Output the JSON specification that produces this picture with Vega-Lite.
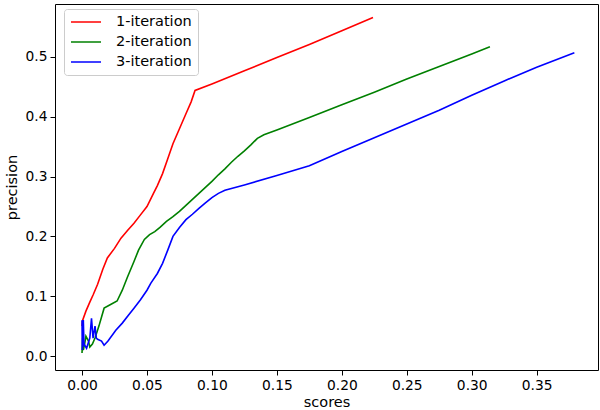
{
  "$schema": "https://vega.github.io/schema/vega-lite/v6.json",
  "width": 543,
  "height": 366,
  "autosize": {"type": "none"},
  "padding": {"left": 55, "top": 4, "right": 2, "bottom": 40},
  "background": "white",
  "config": {
    "view": {"stroke": "#000000", "strokeWidth": 1},
    "font": "DejaVu Sans",
    "axis": {
      "grid": false,
      "domain": false,
      "tickColor": "#000000",
      "tickSize": 5,
      "labelFont": "DejaVu Sans",
      "labelFontSize": 13.8,
      "labelColor": "#000000",
      "titleFont": "DejaVu Sans",
      "titleFontSize": 14.5,
      "titleFontWeight": "normal",
      "titleColor": "#000000",
      "labelPadding": 3
    }
  },
  "data": {
    "values": [
      {"series": "1-iteration", "score": 0.0, "precision": 0.05},
      {"series": "1-iteration", "score": 0.0005, "precision": 0.06},
      {"series": "1-iteration", "score": 0.003, "precision": 0.075},
      {"series": "1-iteration", "score": 0.006, "precision": 0.09},
      {"series": "1-iteration", "score": 0.0085, "precision": 0.102},
      {"series": "1-iteration", "score": 0.012, "precision": 0.12},
      {"series": "1-iteration", "score": 0.016, "precision": 0.145},
      {"series": "1-iteration", "score": 0.0195, "precision": 0.164},
      {"series": "1-iteration", "score": 0.025, "precision": 0.18},
      {"series": "1-iteration", "score": 0.03, "precision": 0.197},
      {"series": "1-iteration", "score": 0.035, "precision": 0.21},
      {"series": "1-iteration", "score": 0.04, "precision": 0.222},
      {"series": "1-iteration", "score": 0.045, "precision": 0.236},
      {"series": "1-iteration", "score": 0.05, "precision": 0.25},
      {"series": "1-iteration", "score": 0.055, "precision": 0.272},
      {"series": "1-iteration", "score": 0.058, "precision": 0.285},
      {"series": "1-iteration", "score": 0.062, "precision": 0.305},
      {"series": "1-iteration", "score": 0.066, "precision": 0.33},
      {"series": "1-iteration", "score": 0.07, "precision": 0.355},
      {"series": "1-iteration", "score": 0.075, "precision": 0.38},
      {"series": "1-iteration", "score": 0.08, "precision": 0.405},
      {"series": "1-iteration", "score": 0.084, "precision": 0.425},
      {"series": "1-iteration", "score": 0.087, "precision": 0.444},
      {"series": "1-iteration", "score": 0.1, "precision": 0.455},
      {"series": "1-iteration", "score": 0.125, "precision": 0.477},
      {"series": "1-iteration", "score": 0.15, "precision": 0.499},
      {"series": "1-iteration", "score": 0.175, "precision": 0.521},
      {"series": "1-iteration", "score": 0.2, "precision": 0.544},
      {"series": "1-iteration", "score": 0.224, "precision": 0.566},

      {"series": "2-iteration", "score": 0.0, "precision": 0.005},
      {"series": "2-iteration", "score": 0.0005, "precision": 0.03},
      {"series": "2-iteration", "score": 0.001, "precision": 0.01},
      {"series": "2-iteration", "score": 0.002, "precision": 0.02},
      {"series": "2-iteration", "score": 0.003, "precision": 0.033},
      {"series": "2-iteration", "score": 0.005, "precision": 0.025},
      {"series": "2-iteration", "score": 0.006, "precision": 0.015},
      {"series": "2-iteration", "score": 0.008, "precision": 0.02},
      {"series": "2-iteration", "score": 0.01, "precision": 0.03},
      {"series": "2-iteration", "score": 0.013, "precision": 0.05},
      {"series": "2-iteration", "score": 0.017, "precision": 0.08},
      {"series": "2-iteration", "score": 0.022, "precision": 0.086},
      {"series": "2-iteration", "score": 0.027, "precision": 0.092},
      {"series": "2-iteration", "score": 0.031, "precision": 0.11},
      {"series": "2-iteration", "score": 0.035, "precision": 0.132},
      {"series": "2-iteration", "score": 0.04, "precision": 0.158},
      {"series": "2-iteration", "score": 0.0435, "precision": 0.177},
      {"series": "2-iteration", "score": 0.048, "precision": 0.195},
      {"series": "2-iteration", "score": 0.052, "precision": 0.203},
      {"series": "2-iteration", "score": 0.056, "precision": 0.208},
      {"series": "2-iteration", "score": 0.06, "precision": 0.215},
      {"series": "2-iteration", "score": 0.065, "precision": 0.225},
      {"series": "2-iteration", "score": 0.07, "precision": 0.233},
      {"series": "2-iteration", "score": 0.075, "precision": 0.242},
      {"series": "2-iteration", "score": 0.08, "precision": 0.252},
      {"series": "2-iteration", "score": 0.085, "precision": 0.262},
      {"series": "2-iteration", "score": 0.09, "precision": 0.272},
      {"series": "2-iteration", "score": 0.095, "precision": 0.282},
      {"series": "2-iteration", "score": 0.1, "precision": 0.292},
      {"series": "2-iteration", "score": 0.105, "precision": 0.303},
      {"series": "2-iteration", "score": 0.11, "precision": 0.313},
      {"series": "2-iteration", "score": 0.115, "precision": 0.324},
      {"series": "2-iteration", "score": 0.12, "precision": 0.334},
      {"series": "2-iteration", "score": 0.125, "precision": 0.343},
      {"series": "2-iteration", "score": 0.13, "precision": 0.353},
      {"series": "2-iteration", "score": 0.135, "precision": 0.364},
      {"series": "2-iteration", "score": 0.14, "precision": 0.37},
      {"series": "2-iteration", "score": 0.15, "precision": 0.378},
      {"series": "2-iteration", "score": 0.175, "precision": 0.399},
      {"series": "2-iteration", "score": 0.2, "precision": 0.42},
      {"series": "2-iteration", "score": 0.225, "precision": 0.441},
      {"series": "2-iteration", "score": 0.25, "precision": 0.463},
      {"series": "2-iteration", "score": 0.275, "precision": 0.484},
      {"series": "2-iteration", "score": 0.3, "precision": 0.505},
      {"series": "2-iteration", "score": 0.314, "precision": 0.517},

      {"series": "3-iteration", "score": 0.0, "precision": 0.06},
      {"series": "3-iteration", "score": 0.0002, "precision": 0.01},
      {"series": "3-iteration", "score": 0.0004, "precision": 0.05},
      {"series": "3-iteration", "score": 0.0006, "precision": 0.015},
      {"series": "3-iteration", "score": 0.001, "precision": 0.06},
      {"series": "3-iteration", "score": 0.0015, "precision": 0.02},
      {"series": "3-iteration", "score": 0.0035, "precision": 0.013},
      {"series": "3-iteration", "score": 0.006, "precision": 0.03},
      {"series": "3-iteration", "score": 0.0073, "precision": 0.063},
      {"series": "3-iteration", "score": 0.0085, "precision": 0.03},
      {"series": "3-iteration", "score": 0.01, "precision": 0.05},
      {"series": "3-iteration", "score": 0.011, "precision": 0.03},
      {"series": "3-iteration", "score": 0.012, "precision": 0.028},
      {"series": "3-iteration", "score": 0.015, "precision": 0.025},
      {"series": "3-iteration", "score": 0.017, "precision": 0.018},
      {"series": "3-iteration", "score": 0.02, "precision": 0.025},
      {"series": "3-iteration", "score": 0.026, "precision": 0.043},
      {"series": "3-iteration", "score": 0.031, "precision": 0.055},
      {"series": "3-iteration", "score": 0.036, "precision": 0.069},
      {"series": "3-iteration", "score": 0.04, "precision": 0.08},
      {"series": "3-iteration", "score": 0.045, "precision": 0.094},
      {"series": "3-iteration", "score": 0.05, "precision": 0.11},
      {"series": "3-iteration", "score": 0.053, "precision": 0.122},
      {"series": "3-iteration", "score": 0.058, "precision": 0.138},
      {"series": "3-iteration", "score": 0.062, "precision": 0.155},
      {"series": "3-iteration", "score": 0.066, "precision": 0.177},
      {"series": "3-iteration", "score": 0.07, "precision": 0.2},
      {"series": "3-iteration", "score": 0.075, "precision": 0.215},
      {"series": "3-iteration", "score": 0.08, "precision": 0.228},
      {"series": "3-iteration", "score": 0.085, "precision": 0.237},
      {"series": "3-iteration", "score": 0.09, "precision": 0.247},
      {"series": "3-iteration", "score": 0.095, "precision": 0.256},
      {"series": "3-iteration", "score": 0.1, "precision": 0.265},
      {"series": "3-iteration", "score": 0.105, "precision": 0.272},
      {"series": "3-iteration", "score": 0.11, "precision": 0.277},
      {"series": "3-iteration", "score": 0.125, "precision": 0.286},
      {"series": "3-iteration", "score": 0.15, "precision": 0.302},
      {"series": "3-iteration", "score": 0.175, "precision": 0.318},
      {"series": "3-iteration", "score": 0.2, "precision": 0.342},
      {"series": "3-iteration", "score": 0.225, "precision": 0.365},
      {"series": "3-iteration", "score": 0.25, "precision": 0.388},
      {"series": "3-iteration", "score": 0.275, "precision": 0.411},
      {"series": "3-iteration", "score": 0.3, "precision": 0.436},
      {"series": "3-iteration", "score": 0.325, "precision": 0.46},
      {"series": "3-iteration", "score": 0.35, "precision": 0.483},
      {"series": "3-iteration", "score": 0.379, "precision": 0.507}
    ]
  },
  "mark": {"type": "line", "strokeWidth": 1.6, "clip": true},
  "encoding": {
    "x": {
      "field": "score",
      "type": "quantitative",
      "title": "scores",
      "scale": {"domain": [-0.0208, 0.3972], "nice": false, "zero": false},
      "axis": {"values": [0, 0.05, 0.1, 0.15, 0.2, 0.25, 0.3, 0.35], "format": ".2f", "titlePadding": 4}
    },
    "y": {
      "field": "precision",
      "type": "quantitative",
      "title": "precision",
      "scale": {"domain": [-0.0234, 0.5886], "nice": false, "zero": false},
      "axis": {"values": [0, 0.1, 0.2, 0.3, 0.4, 0.5], "format": ".1f", "titlePadding": 6}
    },
    "color": {
      "field": "series",
      "type": "nominal",
      "scale": {"domain": ["1-iteration", "2-iteration", "3-iteration"], "range": ["#ff0000", "#008000", "#0000ff"]},
      "legend": {
        "title": null,
        "orient": "none",
        "legendX": 9,
        "legendY": 5,
        "padding": 6,
        "strokeColor": "#cccccc",
        "fillColor": "rgba(255,255,255,0.8)",
        "cornerRadius": 3,
        "symbolType": "stroke",
        "symbolSize": 900,
        "symbolStrokeWidth": 1.6,
        "clipHeight": 14,
        "rowPadding": 5,
        "labelOffset": 14,
        "labelFont": "DejaVu Sans",
        "labelFontSize": 14.5,
        "labelColor": "#000000"
      }
    }
  }
}
